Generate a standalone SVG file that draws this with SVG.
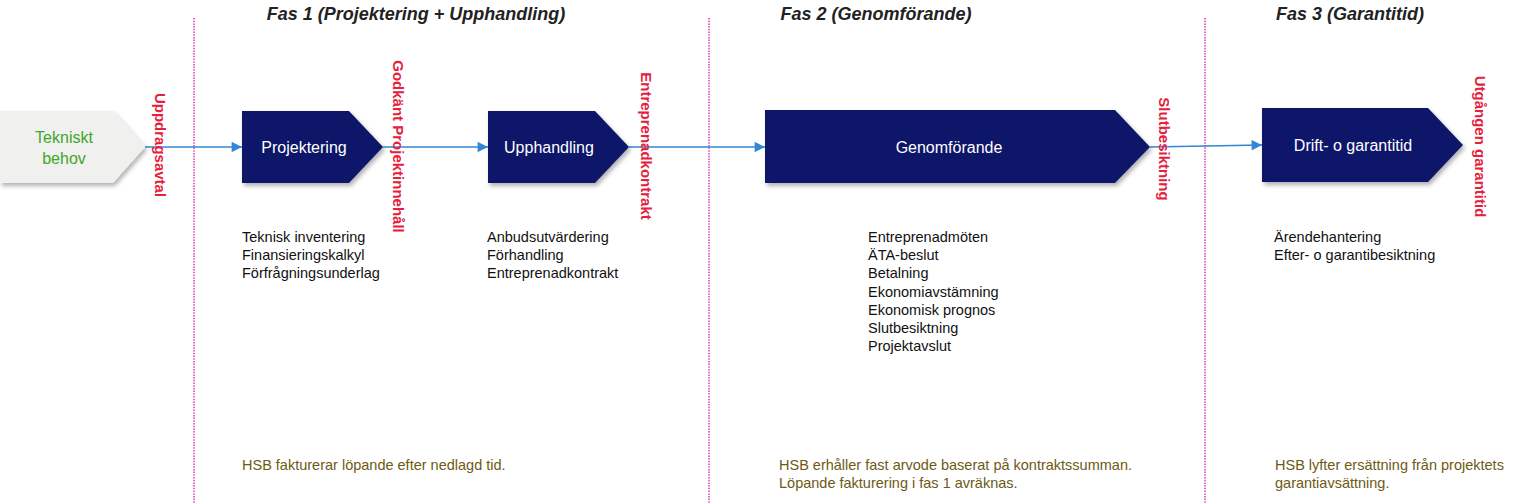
<svg xmlns="http://www.w3.org/2000/svg" width="1518" height="503" viewBox="0 0 1518 503">
<style>
  .phase{font-family:"Liberation Sans",Arial,sans-serif;font-weight:bold;font-style:italic;font-size:18px;fill:#222;text-anchor:middle}
  .box{fill:#0f1868;filter:url(#sh)}
  .start{fill:#f0f0ee;filter:url(#sh)}
  .boxt{font-family:"Liberation Sans",Arial,sans-serif;font-size:16px;fill:#fff;text-anchor:middle}
  .green{font-family:"Liberation Sans",Arial,sans-serif;font-size:16px;fill:#3ea62a;text-anchor:middle}
  .ms{font-family:"Liberation Sans",Arial,sans-serif;font-weight:bold;font-size:15px;fill:#e5203c;text-anchor:middle;dominant-baseline:central}
  .list{font-family:"Liberation Sans",Arial,sans-serif;font-size:14.5px;fill:#111}
  .note{font-family:"Liberation Sans",Arial,sans-serif;font-size:14.5px;fill:#6d5a14}
  .div{stroke:#d11fa8;stroke-width:1.3;stroke-dasharray:1.5 1.2;fill:none}
  .conn{stroke:#3386d4;stroke-width:1.6;fill:none;marker-end:url(#ah)}
</style>
<defs>
  <filter id="sh" x="-10%" y="-10%" width="125%" height="140%">
    <feDropShadow dx="2" dy="3" stdDeviation="2" flood-color="#000" flood-opacity="0.3"/>
  </filter>
  <marker id="ah" viewBox="0 0 10 10" refX="10" refY="5" markerWidth="7" markerHeight="6.5" orient="auto" markerUnits="strokeWidth">
    <path d="M0,0 L10,5 L0,10 z" fill="#3386d4"/>
  </marker>
</defs>
<rect width="1518" height="503" fill="#fff"/>

<g id="phase-titles">
  <text class="phase" x="416" y="20">Fas 1 (Projektering + Upphandling)</text>
  <text class="phase" x="876" y="20">Fas 2 (Genomförande)</text>
  <text class="phase" x="1350" y="20">Fas 3 (Garantitid)</text>
</g>

<g id="dividers">
  <line class="div" x1="194" y1="18" x2="194" y2="503"/>
  <line class="div" x1="709" y1="18" x2="709" y2="503"/>
  <line class="div" x1="1205" y1="18" x2="1205" y2="503"/>
</g>

<g id="connectors">
  <line class="conn" x1="145" y1="147" x2="242" y2="147"/>
  <line class="conn" x1="383" y1="147" x2="488" y2="147"/>
  <line class="conn" x1="629" y1="147" x2="765" y2="147"/>
  <line class="conn" x1="1150" y1="147" x2="1262" y2="145"/>
</g>

<g id="tekniskt-behov">
  <path class="start" d="M0,111 L113,111 L145,147 L113,183 L0,183 Z"/>
  <text class="green" x="64" y="142.5">Tekniskt</text>
  <text class="green" x="64" y="164">behov</text>
</g>

<g id="projektering">
  <path class="box" d="M242,111 L349,111 L383,147 L349,183 L242,183 Z"/>
  <text class="boxt" x="304" y="153">Projektering</text>
</g>

<g id="upphandling">
  <path class="box" d="M488,111 L595,111 L629,147 L595,183 L488,183 Z"/>
  <text class="boxt" x="549" y="153">Upphandling</text>
</g>

<g id="genomforande">
  <path class="box" d="M765,110 L1115,110 L1150,147 L1115,183 L765,183 Z"/>
  <text class="boxt" x="949" y="153">Genomförande</text>
</g>

<g id="drift">
  <path class="box" d="M1262,108 L1428,108 L1463,145 L1428,182 L1262,182 Z"/>
  <text class="boxt" x="1353" y="151">Drift- o garantitid</text>
</g>

<g id="milestones">
  <text class="ms" x="160" y="145" transform="rotate(90 160 145)">Uppdragsavtal</text>
  <text class="ms" x="398" y="146.5" transform="rotate(90 398 146.5)">Godkänt Projektinnehåll</text>
  <text class="ms" x="646" y="146" transform="rotate(90 646 146)">Entreprenadkontrakt</text>
  <text class="ms" x="1164" y="149" transform="rotate(90 1164 149)">Slutbesiktning</text>
  <text class="ms" x="1480" y="146.5" transform="rotate(90 1480 146.5)">Utgången garantitid</text>
</g>

<g id="lists">
  <text class="list" x="242" y="242">Teknisk inventering</text>
  <text class="list" x="242" y="260">Finansieringskalkyl</text>
  <text class="list" x="242" y="278">Förfrågningsunderlag</text>

  <text class="list" x="487" y="242">Anbudsutvärdering</text>
  <text class="list" x="487" y="260">Förhandling</text>
  <text class="list" x="487" y="278">Entreprenadkontrakt</text>

  <text class="list" x="868" y="242">Entreprenadmöten</text>
  <text class="list" x="868" y="260">ÄTA-beslut</text>
  <text class="list" x="868" y="278">Betalning</text>
  <text class="list" x="868" y="296.5">Ekonomiavstämning</text>
  <text class="list" x="868" y="315">Ekonomisk prognos</text>
  <text class="list" x="868" y="333">Slutbesiktning</text>
  <text class="list" x="868" y="351">Projektavslut</text>

  <text class="list" x="1274" y="242">Ärendehantering</text>
  <text class="list" x="1274" y="260">Efter- o garantibesiktning</text>
</g>

<g id="notes">
  <text class="note" x="242" y="470">HSB fakturerar löpande efter nedlagd tid.</text>
  <text class="note" x="779" y="470">HSB erhåller fast arvode baserat på kontraktssumman.</text>
  <text class="note" x="779" y="488">Löpande fakturering i fas 1 avräknas.</text>
  <text class="note" x="1275" y="470">HSB lyfter ersättning från projektets</text>
  <text class="note" x="1275" y="488">garantiavsättning.</text>
</g>
</svg>
